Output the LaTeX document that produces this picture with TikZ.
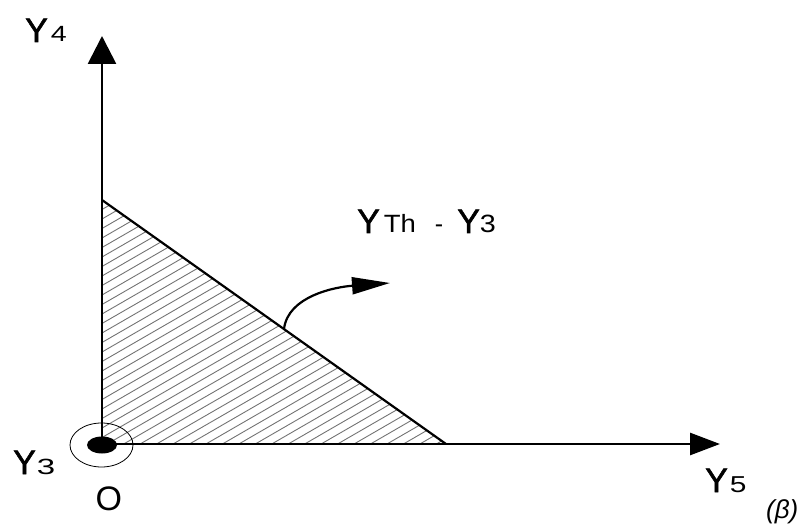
\documentclass[tikz,border=0pt]{standalone}
\usepackage{fontspec}
\usepackage{graphicx}
\setmainfont{Liberation Sans}
\newfontfamily\heavy[FakeBold=1.6]{Liberation Sans}
\usetikzlibrary{arrows.meta}
\newcommand\subd[3]{\scalebox{#1}[1]{\fontsize{#2}{#2}\selectfont #3}}
\begin{document}
\begin{tikzpicture}[x=1pt,y=-1pt,
  axis/.style={line width=2.8pt},
  edgeline/.style={line width=2.2pt},
  hatch/.style={black!55, line width=0.9pt},
  lbl/.style={inner sep=0pt, anchor=base west, font=\fontsize{34}{36}\selectfont}]
\useasboundingbox (0,0) rectangle (803,529);
\coordinate (O) at (102,444);
\coordinate (T) at (102,200);
\coordinate (R) at (446,444);
\coordinate (Ytip) at (102,36);
\coordinate (Xtip) at (720,444);
\coordinate (S) at (284,329);
\coordinate (E) at (390,283);
% hatching
\begin{scope}
  \clip (O) -- (T) -- (R) -- cycle;
  \foreach \c in {200,209.5,...,670} \draw[hatch] (102,\c) -- ++(450,-259.8);
\end{scope}
\draw[edgeline] (T) -- (R);
\draw[axis, -{Triangle[length=28pt,width=28pt]}] (O) -- (Ytip);
\draw[axis, -{Triangle[length=30pt,width=22pt]}] (O) -- (Xtip);
\draw[line width=0.8pt] (101.5,445) ellipse [x radius=31.5, y radius=22];
\fill (102,445) ellipse [x radius=15, y radius=8.5];
\draw[edgeline, -{Triangle[length=38pt,width=17pt]}] (S) .. controls (288,296) and (335,287) .. (E);
% labels
\node[lbl] (y4) at (25,42) {{\heavy Y}\kern3pt\subd{1.3}{22}{4}};
\node[lbl] (y3) at (13,474) {{\heavy Y}\kern1pt\subd{1.5}{22}{3}};
\node[lbl] (o) at (95.5,510) {O};
\node[lbl] (y5) at (705,492) {{\heavy Y}\kern2pt\subd{1.3}{23}{5}};
\node[lbl] (yth) at (357,233) {{\heavy Y}\kern4pt{\fontsize{25}{28}\selectfont\scalebox{1.1}[1]{Th}\kern19pt-\kern14pt}{\heavy Y}{\fontsize{25}{28}\selectfont\scalebox{1.15}[1]{3}}};
\node[inner sep=0pt, anchor=base west, font=\fontsize{26}{28}\selectfont\itshape] (beta) at (766,518) {(β)};
\end{tikzpicture}
\end{document}
